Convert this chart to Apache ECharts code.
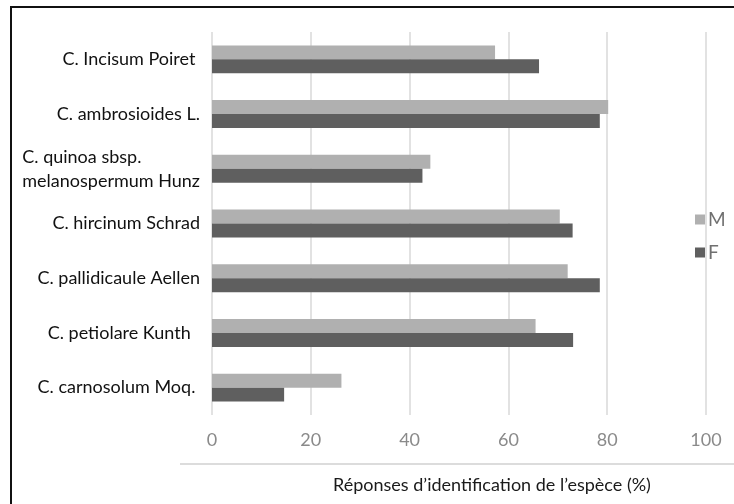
<!DOCTYPE html>
<html>
<head>
<meta charset="utf-8">
<script src="https://cdn.jsdelivr.net/npm/echarts@6/dist/echarts.min.js"></script>
<style>
html,body{margin:0;padding:0;background:#fff;}
#chart{width:734px;height:504px;}
</style>
</head>
<body>
<div id="chart"></div>
<script>
const categories = [
  "C. Incisum Poiret ",
  "C. ambrosioides L.",
  "C. quinoa sbsp.\nmelanospermum Hunz",
  "C. hircinum Schrad",
  "C. pallidicaule Aellen",
  "C. petiolare Kunth  ",
  "C. carnosolum Moq. "
];
const seriesNames = ["M", "F"];
const valuesM = [57.3, 80.2, 44.2, 70.4, 72.0, 65.5, 26.2];
const valuesF = [66.2, 78.5, 42.6, 73.0, 78.5, 73.1, 14.6];
const xTicks = [0, 20, 40, 60, 80, 100];
const axisTitle = "Réponses d’identification de l’espèce (%)";

const FONT = "Lato, 'Open Sans', sans-serif";
const chart = echarts.init(document.getElementById('chart'), null, {renderer: 'canvas'});
chart.setOption({
  animation: false,
  backgroundColor: '#fff',
  textStyle: {fontFamily: FONT},
  grid: {left: 212, right: 28, top: 32, bottom: 89, containLabel: false},
  title: {
    text: axisTitle,
    left: 328, top: 471,
    textStyle: {fontFamily: FONT, fontSize: 18, fontWeight: 'normal', color: '#1a1a1a'}
  },
  legend: {
    orient: 'vertical',
    left: 690, top: 205,
    itemWidth: 10, itemHeight: 10, itemGap: 14,
    icon: 'rect',
    data: seriesNames,
    textStyle: {fontFamily: FONT, fontSize: 19, color: '#707070', padding: [0,0,0,-2]}
  },
  xAxis: {
    type: 'value',
    min: xTicks[0], max: xTicks[xTicks.length-1], interval: 20,
    axisLine: {show: false},
    axisTick: {show: false},
    axisLabel: {fontFamily: FONT, fontSize: 18, color: '#8a8a8a', margin: 16},
    splitLine: {show: true, lineStyle: {color: '#e2e2e2', width: 2}}
  },
  yAxis: {
    type: 'category',
    inverse: true,
    data: categories,
    axisLine: {show: false},
    axisTick: {show: false},
    splitLine: {show: false},
    axisLabel: {
      fontFamily: FONT, fontSize: 18, color: '#111', margin: 12, lineHeight: 24,
      formatter: function (v) {
        if (v.indexOf('\n') >= 0) {
          const p = v.split('\n');
          return '{a|' + p[0] + '}\n{b|' + p[1] + '}';
        }
        return v;
      },
      rich: {
        a: {fontFamily: FONT, fontSize: 18, color: '#111', width: 168, align: 'left', lineHeight: 24},
        b: {fontFamily: FONT, fontSize: 18, color: '#111', lineHeight: 24}
      }
    }
  },
  series: [
    {name: seriesNames[0], type: 'bar', data: valuesM, barGap: '0%', barCategoryGap: '49%',
     itemStyle: {color: '#b0b0b0'}},
    {name: seriesNames[1], type: 'bar', data: valuesF, barGap: '0%', barCategoryGap: '49%',
     itemStyle: {color: '#5f5f5f'}}
  ],
  graphic: [
    {type: 'rect', shape: {x: 11, y: 7, width: 800, height: 600},
     style: {fill: null, stroke: '#111', lineWidth: 2}, silent: true},
    {type: 'line', shape: {x1: 180, y1: 464, x2: 734, y2: 464},
     style: {stroke: '#dcdcdc', lineWidth: 2}, silent: true}
  ]
});
</script>
</body>
</html>
